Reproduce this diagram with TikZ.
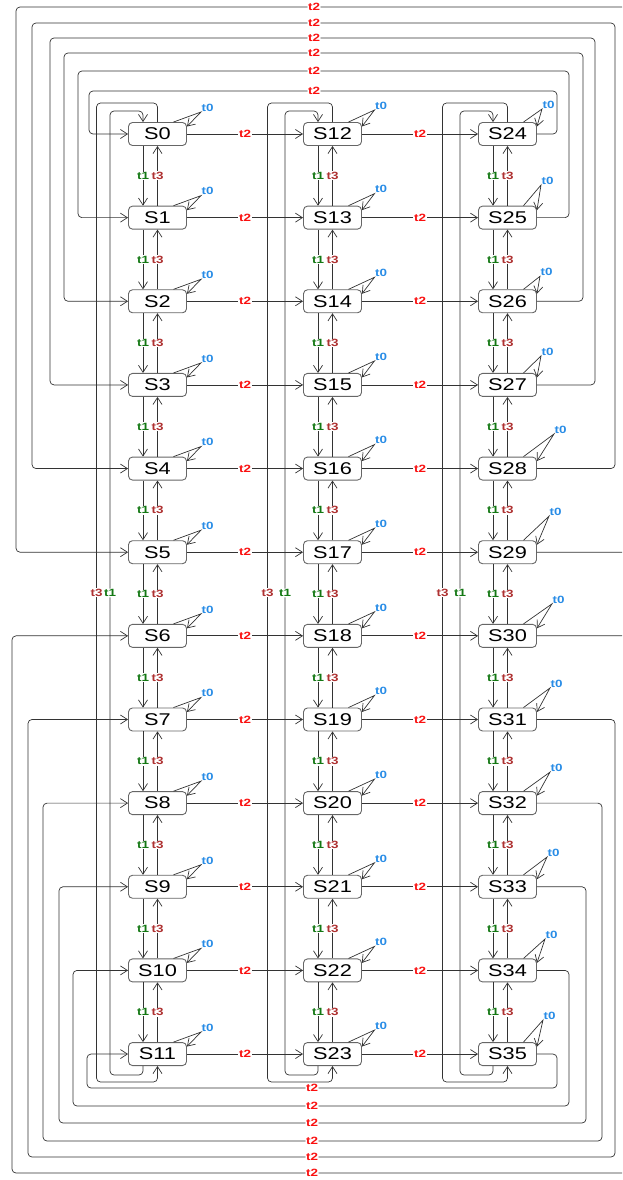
\documentclass[tikz,border=0pt]{standalone}
\usepackage{fontspec}
\setmainfont[FakeStretch=1.28]{Liberation Sans}
\usetikzlibrary{arrows.meta,calc}
\definecolor{tred}{RGB}{250,15,15}
\definecolor{tgreen}{RGB}{20,120,20}
\definecolor{tbrown}{RGB}{175,50,50}
\definecolor{tblue}{RGB}{40,140,230}
\newcommand\tzloop[3]{\draw[ed] ([xshift=16pt]S#1.north) -- ($(S#1)+(#2,#3)$) node[lt0]{t0} -- ([yshift=7.5pt]S#1.east);}
\begin{document}
\begin{tikzpicture}[x=1pt,y=-1pt,
  st/.style={draw=black!60, line width=0.9pt, rounded corners=4pt, minimum width=58pt, minimum height=23pt, inner sep=0pt, fill=white, font=\fontsize{17}{17}\selectfont},
  ed/.style={draw=black!80, line width=0.7pt, -{Straight Barb[length=7pt,width=9pt]}},
  wrap/.style={ed, rounded corners=4pt},
  lab/.style={font=\bfseries\fontsize{10.5}{10.5}\selectfont, inner sep=0.6pt},
  lt2/.style={lab, fill=white, text=tred},
  lt1/.style={lab, fill=white, text=tgreen},
  lt3/.style={lab, fill=white, text=tbrown},
  lt0/.style={lab, text=tblue, anchor=south west, inner sep=0.3pt}]
\clip (0,0) rectangle (622,1180);
% states
\foreach \c in {0,1,2}{
  \foreach \r in {0,...,11}{
    \pgfmathtruncatemacro\n{12*\c+\r}
    \node[st] (S\n) at ({157.5+175*\c},{134+83.64*\r}) {S\n};
  }
}
% t1 / t3 between neighbours
\foreach \c in {0,1,2}{
  \foreach \r in {0,...,10}{
    \pgfmathtruncatemacro\na{12*\c+\r}
    \pgfmathtruncatemacro\nb{\na+1}
    \draw[ed] ([xshift=-14.5pt]S\na.south) -- node[lt1]{t1} ([xshift=-14.5pt]S\nb.north);
    \draw[ed] (S\nb.north) -- node[lt3]{t3} (S\na.south);
  }
}
% t2 horizontal
\foreach \c in {0,1}{
  \foreach \r in {0,...,11}{
    \pgfmathtruncatemacro\na{12*\c+\r}
    \pgfmathtruncatemacro\nb{\na+12}
    \draw[ed] (S\na.east) -- node[lt2]{t2} (S\nb.west);
  }
}
% t2 wrap-around, top
\foreach \i/\R/\T/\L in {0/557/91/89, 1/569/71/78, 2/583/53/64, 3/595/38/50, 4/615/23/32, 5/640/7/16}{
  \pgfmathtruncatemacro\na{24+\i}
  \pgfmathsetmacro\p{(\R-314)/(\R-\L)}
  \draw[wrap] (S\na.east) -| (\R,\T) -- node[lt2,pos=\p]{t2} (\L,\T) |- (S\i.west);
}
% t2 wrap-around, bottom
\foreach \i/\R/\T/\L in {0/640/1173/12, 1/615/1157/28, 2/602/1141/43, 3/586/1123/59, 4/569/1106/73, 5/557/1088/87}{
  \pgfmathtruncatemacro\na{30+\i}
  \pgfmathtruncatemacro\nb{6+\i}
  \pgfmathsetmacro\p{(\R-312)/(\R-\L)}
  \draw[wrap] (S\na.east) -| (\R,\T) -- node[lt2,pos=\p]{t2} (\L,\T) |- (S\nb.west);
}
% long t1 / t3 in each column
\foreach \c/\u in {0/61, 1/65, 2/65}{
  \pgfmathtruncatemacro\ta{12*\c}
  \pgfmathtruncatemacro\tb{12*\c+11}
  \pgfmathsetmacro\myX{157.5+175*\c}
  \pgfmathsetmacro\myA{\myX-47.5}
  \pgfmathsetmacro\myB{\myX-\u}
  \draw[wrap] ([xshift=-14.5pt]S\tb.south) |- (\myA,1075) -- node[lt1]{t1} (\myA,111) -| ([xshift=-14.5pt]S\ta.north);
  \draw[wrap] (S\ta.north) |- (\myB,103) -- node[lt3]{t3} (\myB,1082) -| (S\tb.south);
}
% t0 self loops
\foreach \n in {0,...,11}{\tzloop{\n}{43.5}{-22}}
\foreach \n in {12,...,23}{\tzloop{\n}{42}{-24}}
\foreach \n/\dx/\dy in {24/34.5/-25, 25/33.5/-32.6, 26/32.5/-25, 27/33.5/-29, 28/46.5/-34.6, 29/41.5/-36, 30/44.5/-32, 31/42.5/-31.5, 32/42.5/-31, 33/39.5/-29.7, 34/37.5/-31.4, 35/35.5/-34}{\tzloop{\n}{\dx}{\dy}}
\end{tikzpicture}
\end{document}
